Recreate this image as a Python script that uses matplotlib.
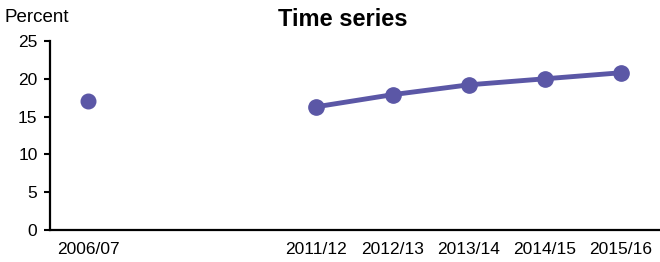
import matplotlib
matplotlib.use('Agg')
import matplotlib.pyplot as plt

plt.rcParams['font.family'] = ['Liberation Sans', 'DejaVu Sans']

# categories (blank slots are years with no data)
years = ['2006/07', '', '', '2011/12', '2012/13', '2013/14', '2014/15', '2015/16']
single_val = 17.0
series_vals = [16.3, 17.9, 19.2, 20.0, 20.8]
yticks = [0, 5, 10, 15, 20, 25]

col = '#5b57a6'

fig = plt.figure(figsize=(6.6, 2.62), dpi=100)
ax = fig.add_axes([50 / 660, 32 / 262, 609 / 660, 189 / 262])

x = list(range(len(years)))
ax.plot([x[0]], [single_val], 'o', color=col, ms=10.5, zorder=3)
ax.plot(x[3:], series_vals, '-o', color=col, lw=3.5, ms=11, zorder=3)

ax.set_xlim(-0.5, len(years) - 0.5)
ax.set_ylim(0, 25)
ax.set_yticks(yticks)
ax.set_xticks(x)
ax.set_xticklabels(years)
ax.tick_params(axis='x', length=0, pad=9, labelsize=12.5)
ax.tick_params(axis='y', length=4, width=1.5, direction='out', pad=5, labelsize=12.5)

for s in ['top', 'right']:
    ax.spines[s].set_visible(False)
for s in ['left', 'bottom']:
    ax.spines[s].set_linewidth(1.6)

fig.text(5 / 660, 1 - 17 / 262, 'Percent', fontsize=13.5, va='center', ha='left')
fig.text(343 / 660, 1 - 20 / 262, 'Time series', fontsize=17, fontweight='bold',
         va='center', ha='center')

fig.savefig('out.png', dpi=100)
